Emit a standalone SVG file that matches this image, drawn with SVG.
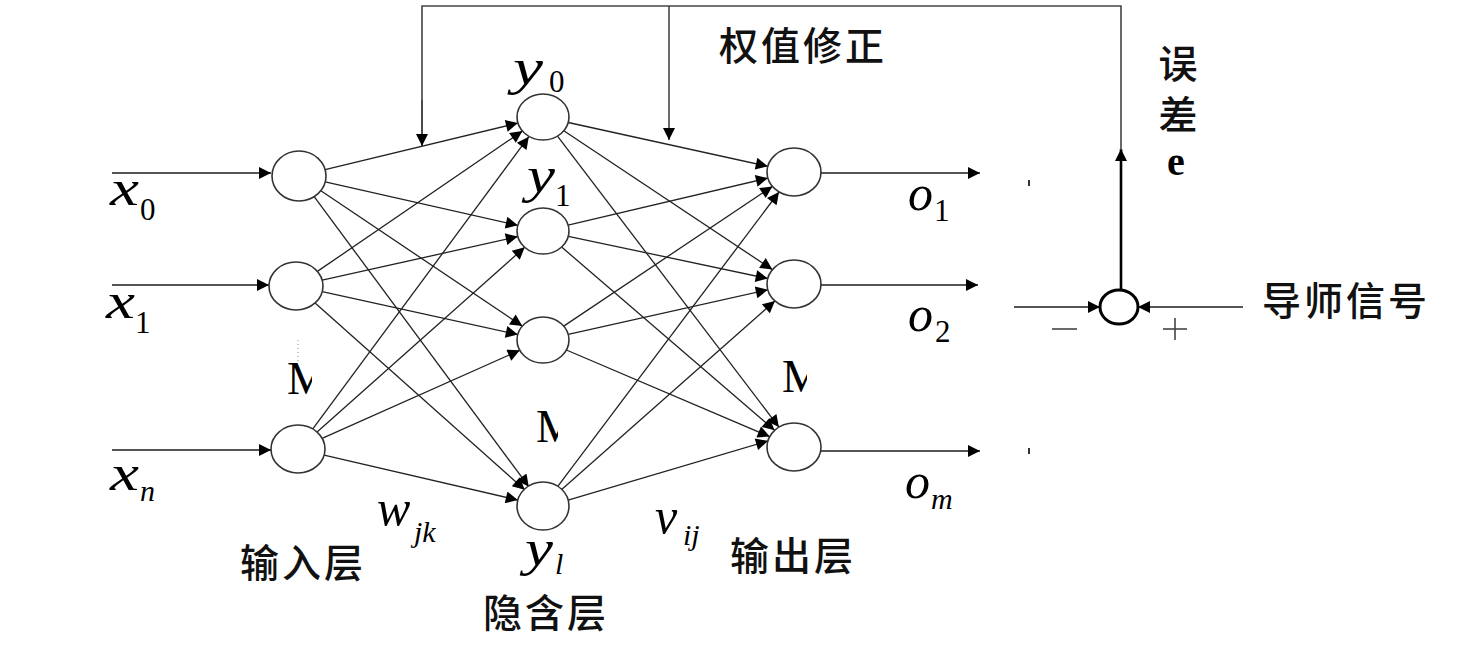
<svg xmlns="http://www.w3.org/2000/svg" width="1474" height="647" viewBox="0 0 1474 647">
<style>
.nd{fill:#fff;stroke:#333;stroke-width:1.6}
.ed{stroke:#222;stroke-width:1.3;fill:none}
.io{stroke:#555;stroke-width:2;fill:none}
.fb{stroke:#444;stroke-width:1.6;fill:none}
.v{font-family:"Liberation Serif",serif;font-style:italic;font-size:50px;fill:#000}
.sd{font-family:"Liberation Serif",serif;font-size:31px;fill:#000}
.si{font-family:"Liberation Serif",serif;font-style:italic;font-size:30px;fill:#000}
.cn{font-family:"Noto Sans CJK SC",sans-serif;font-size:39px;font-weight:500;letter-spacing:3px;fill:#111}
.mm{font-family:"Liberation Serif",serif;font-size:46px;fill:#000}
</style>
<defs>
<marker id="ah" viewBox="0 0 10 10" refX="10" refY="5" markerWidth="16" markerHeight="12" markerUnits="userSpaceOnUse" orient="auto">
<path d="M0,0 L10,5 L0,10 z" fill="#000"/>
</marker>
<clipPath id="c1"><rect x="284" y="355" width="28" height="50"/></clipPath>
<clipPath id="c2"><rect x="533" y="405" width="25" height="50"/></clipPath>
<clipPath id="c3"><rect x="779" y="355" width="28" height="50"/></clipPath>
</defs>

<g id="connectors">
<line class="io" x1="112" y1="173" x2="271" y2="173" marker-end="url(#ah)"/>
<line class="io" x1="112" y1="285" x2="269" y2="285" marker-end="url(#ah)"/>
<line class="io" x1="112" y1="450" x2="271" y2="450" marker-end="url(#ah)"/>
<line class="ed" x1="325.1" y1="169.7" x2="517.9" y2="123.1" marker-end="url(#ah)"/>
<line class="ed" x1="325.2" y1="181.9" x2="517.8" y2="225.3" marker-end="url(#ah)"/>
<line class="ed" x1="320.5" y1="190.5" x2="522.3" y2="326.1" marker-end="url(#ah)"/>
<line class="ed" x1="313.8" y1="196.1" x2="528.8" y2="486.7" marker-end="url(#ah)"/>
<line class="ed" x1="317.4" y1="271.4" x2="522.4" y2="131.1" marker-end="url(#ah)"/>
<line class="ed" x1="322.2" y1="280.2" x2="517.8" y2="236.6" marker-end="url(#ah)"/>
<line class="ed" x1="322.2" y1="291.7" x2="517.8" y2="334.5" marker-end="url(#ah)"/>
<line class="ed" x1="315.1" y1="303.0" x2="524.7" y2="489.7" marker-end="url(#ah)"/>
<line class="ed" x1="312.8" y1="428.9" x2="528.8" y2="136.7" marker-end="url(#ah)"/>
<line class="ed" x1="317.1" y1="432.0" x2="524.7" y2="247.3" marker-end="url(#ah)"/>
<line class="ed" x1="322.1" y1="438.3" x2="519.8" y2="350.3" marker-end="url(#ah)"/>
<line class="ed" x1="324.1" y1="455.1" x2="517.8" y2="500.1" marker-end="url(#ah)"/>
<line class="ed" x1="568.2" y1="122.5" x2="767.8" y2="166.3" marker-end="url(#ah)"/>
<line class="ed" x1="563.8" y1="130.8" x2="772.4" y2="269.6" marker-end="url(#ah)"/>
<line class="ed" x1="557.5" y1="136.1" x2="778.9" y2="427.1" marker-end="url(#ah)"/>
<line class="ed" x1="568.1" y1="225.1" x2="767.9" y2="178.1" marker-end="url(#ah)"/>
<line class="ed" x1="568.3" y1="236.3" x2="767.7" y2="278.5" marker-end="url(#ah)"/>
<line class="ed" x1="561.6" y1="247.0" x2="774.6" y2="430.3" marker-end="url(#ah)"/>
<line class="ed" x1="563.7" y1="326.1" x2="772.4" y2="186.4" marker-end="url(#ah)"/>
<line class="ed" x1="568.2" y1="334.4" x2="767.8" y2="289.8" marker-end="url(#ah)"/>
<line class="ed" x1="566.4" y1="350.0" x2="769.7" y2="436.6" marker-end="url(#ah)"/>
<line class="ed" x1="557.4" y1="486.9" x2="779.0" y2="192.0" marker-end="url(#ah)"/>
<line class="ed" x1="561.4" y1="489.7" x2="774.9" y2="300.9" marker-end="url(#ah)"/>
<line class="ed" x1="568.1" y1="500.1" x2="767.9" y2="440.9" marker-end="url(#ah)"/>
<line class="io" x1="821" y1="173" x2="980" y2="173" marker-end="url(#ah)"/>
<line class="io" x1="821" y1="285" x2="978" y2="285" marker-end="url(#ah)"/>
<line class="io" x1="821" y1="451" x2="980" y2="451" marker-end="url(#ah)"/>
<line class="io" x1="1014" y1="307" x2="1100" y2="307" marker-end="url(#ah)"/>
<line class="io" x1="1243" y1="307" x2="1138" y2="307" marker-end="url(#ah)"/>
<line x1="1121" y1="290" x2="1121" y2="149" stroke="#000" stroke-width="2.6" marker-end="url(#ah)"/>
<polyline class="fb" points="1121,150 1121,6 422,6 422,146"/>
<line class="fb" x1="422" y1="100" x2="422" y2="146" marker-end="url(#ah)"/>
<line class="fb" x1="669" y1="6" x2="669" y2="140" marker-end="url(#ah)"/>
</g>

<g id="input-layer">
<ellipse class="nd" cx="299" cy="176" rx="27" ry="25"/>
<ellipse class="nd" cx="296" cy="286" rx="27" ry="24"/>
<ellipse class="nd" cx="298" cy="449" rx="27" ry="24"/>
</g>
<g id="hidden-layer">
<ellipse class="nd" cx="543" cy="117" rx="26" ry="23"/>
<ellipse class="nd" cx="543" cy="231" rx="26" ry="23"/>
<ellipse class="nd" cx="543" cy="340" rx="26" ry="23"/>
<ellipse class="nd" cx="543" cy="506" rx="26" ry="24"/>
</g>
<g id="output-layer">
<ellipse class="nd" cx="794" cy="172" rx="27" ry="24"/>
<ellipse class="nd" cx="794" cy="284" rx="27" ry="24"/>
<ellipse class="nd" cx="794" cy="447" rx="27" ry="24"/>
</g>
<g id="sum-node">
<ellipse cx="1119" cy="307" rx="19" ry="17" fill="#fff" stroke="#000" stroke-width="3"/>
<line x1="1052" y1="329" x2="1077" y2="329" stroke="#444" stroke-width="1.6"/>
<line x1="1163" y1="329" x2="1187" y2="329" stroke="#444" stroke-width="1.6"/>
<line x1="1175" y1="318" x2="1175" y2="340" stroke="#444" stroke-width="1.6"/>
</g>

<g id="marks">
<rect x="1028" y="180" width="2" height="6" fill="#333"/>
<rect x="1028" y="448" width="2" height="6" fill="#333"/>
<line x1="298" y1="340" x2="298" y2="361" stroke="#888" stroke-width="1" stroke-dasharray="1,3"/>
<text class="mm" x="287" y="394" clip-path="url(#c1)">M</text>
<text class="mm" x="536" y="442" clip-path="url(#c2)">M</text>
<text class="mm" x="782" y="392" clip-path="url(#c3)">M</text>
</g>

<g id="labels">
<text class="v" x="110" y="205" textLength="29" lengthAdjust="spacingAndGlyphs">x</text><text class="sd" x="140" y="220">0</text>
<text class="v" x="106" y="318" textLength="29" lengthAdjust="spacingAndGlyphs">x</text><text class="sd" x="135" y="333">1</text>
<text class="v" x="110" y="490" textLength="29" lengthAdjust="spacingAndGlyphs">x</text><text class="si" x="140" y="501">n</text>
<text class="v" x="513" y="84" textLength="30" lengthAdjust="spacingAndGlyphs">y</text><text class="sd" x="549" y="92">0</text>
<text class="v" x="527" y="192" textLength="28" lengthAdjust="spacingAndGlyphs">y</text><text class="sd" x="555" y="206">1</text>
<text class="v" x="525" y="565" textLength="28" lengthAdjust="spacingAndGlyphs">y</text><text class="si" x="555" y="574">l</text>
<text class="v" x="908" y="210">o</text><text class="sd" x="934" y="221">1</text>
<text class="v" x="908" y="331">o</text><text class="sd" x="935" y="342">2</text>
<text class="v" x="905" y="498">o</text><text class="si" x="931" y="509">m</text>
<text class="v" x="377" y="525">w</text><text class="si" x="414" y="542">jk</text>
<text class="v" x="655" y="533">v</text><text class="si" x="683" y="545">ij</text>
<text class="cn" x="719" y="60">权值修正</text>
<text class="cn" x="1178" y="44" writing-mode="tb" style="letter-spacing:12px">误差</text>
<text x="1167" y="175" font-family="Liberation Serif,serif" font-weight="bold" font-size="40" fill="#000">e</text>
<text class="cn" x="1262" y="315">导师信号</text>
<text class="cn" x="240" y="577">输入层</text>
<text class="cn" x="483" y="627">隐含层</text>
<text class="cn" x="730" y="570">输出层</text>
</g>
</svg>
